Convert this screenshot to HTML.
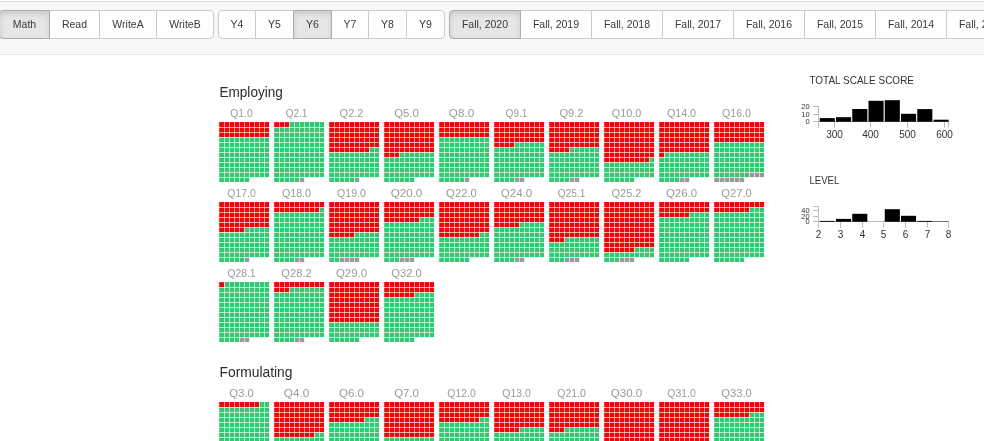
<!DOCTYPE html>
<html lang="en">
<head>
<meta charset="utf-8">
<title>Item map</title>
<style>
html,body{margin:0;padding:0;background:#fff;}
body{width:984px;height:441px;overflow:hidden;position:relative;font-family:"Liberation Sans",sans-serif;}
.nav{position:absolute;left:-1px;top:1px;width:1100px;height:52px;background:#f8f8f8;border:1px solid #e7e7e7;border-top-color:#dcdee6;}
.grp{position:absolute;top:8px;height:29px;}
.btn{position:absolute;top:0;height:29px;box-sizing:border-box;margin:0;padding:0 0 1px 0;border:1px solid #ccc;background:#fff;color:#3a3a3a;
 font:10.5px/1 "Liberation Sans",sans-serif;text-align:center;border-radius:0;cursor:pointer;}
.btn.first{border-top-left-radius:4px;border-bottom-left-radius:4px;}
.btn.last{border-top-right-radius:4px;border-bottom-right-radius:4px;}
.btn.on{background:#e6e6e6;border-color:#adadad;box-shadow:inset 0 3px 5px rgba(0,0,0,.125);z-index:2;}
svg{position:absolute;left:0;top:0;}
.r{fill:#f00}.g{fill:#2ecc71}.n{fill:#999}
#grid{fill:none;stroke:#fff;stroke-width:.66}
.q{font:10px "Liberation Sans",sans-serif;fill:#999;text-anchor:middle}
.h{font:14px "Liberation Sans",sans-serif;fill:#2b2b2b}
.t{font:11px "Liberation Sans",sans-serif;fill:#333}
.ax{fill:none;stroke:#bbb;stroke-width:1}
.yl{font:7.5px "Liberation Sans",sans-serif;fill:#333;text-anchor:end}
.xl{font:10px "Liberation Sans",sans-serif;fill:#333;text-anchor:middle}
</style>
</head>
<body>
<div class="nav"><div class="grp" style="left:-1px"><button type="button" class="btn on first" style="left:0px;width:51px">Math</button><button type="button" class="btn" style="left:50px;width:51px">Read</button><button type="button" class="btn" style="left:100px;width:58px">WriteA</button><button type="button" class="btn last" style="left:157px;width:58px">WriteB</button></div><div class="grp" style="left:218px"><button type="button" class="btn first" style="left:0px;width:38px">Y4</button><button type="button" class="btn" style="left:37px;width:39px">Y5</button><button type="button" class="btn on" style="left:75px;width:39px">Y6</button><button type="button" class="btn" style="left:113px;width:38px">Y7</button><button type="button" class="btn" style="left:150px;width:39px">Y8</button><button type="button" class="btn last" style="left:188px;width:39px">Y9</button></div><div class="grp open" style="left:449px"><button type="button" class="btn on first" style="left:0px;width:72px">Fall, 2020</button><button type="button" class="btn" style="left:71px;width:72px">Fall, 2019</button><button type="button" class="btn" style="left:142px;width:72px">Fall, 2018</button><button type="button" class="btn" style="left:213px;width:72px">Fall, 2017</button><button type="button" class="btn" style="left:284px;width:72px">Fall, 2016</button><button type="button" class="btn" style="left:355px;width:72px">Fall, 2015</button><button type="button" class="btn" style="left:426px;width:72px">Fall, 2014</button><button type="button" class="btn last" style="left:497px;width:72px">Fall, 2013</button></div></div>
<svg width="984" height="441" viewBox="0 0 984 441">
<defs><path id="grid" d="M5.5 -1V61M10.5 -1V61M15.5 -1V61M20.5 -1V61M25.5 -1V61M30.5 -1V61M35.5 -1V61M40.5 -1V61M45.5 -1V61M-1 5.5H51M-1 10.5H51M-1 15.5H51M-1 20.5H51M-1 25.5H51M-1 30.5H51M-1 35.5H51M-1 40.5H51M-1 45.5H51M-1 50.5H51M-1 55.5H51"/></defs>
<text class="h" x="219.5" y="97" textLength="63.3" lengthAdjust="spacingAndGlyphs">Employing</text>
<text class="q" x="241.5" y="116.5" textLength="22.4" lengthAdjust="spacingAndGlyphs">Q1.0</text>
<g transform="translate(219,122)"><path class="r" d="M.2 .1H50V5.5H.2zM.2 5.5H50V10.5H.2zM.2 10.5H50V15.5H.2z"/><path class="g" d="M.2 15.5H50V20.5H.2zM.2 20.5H50V25.5H.2zM.2 25.5H50V30.5H.2zM.2 30.5H50V35.5H.2zM.2 35.5H50V40.5H.2zM.2 40.5H50V45.5H.2zM.2 45.5H50V50.5H.2zM.2 50.5H50V55.5H.2zM.2 55.5H30.5V60H.2z"/><use href="#grid"/></g>
<text class="q" x="296.5" y="116.5" textLength="21.5" lengthAdjust="spacingAndGlyphs">Q2.1</text>
<g transform="translate(274,122)"><path class="r" d="M.2 .1H15.5V5.5H.2z"/><path class="g" d="M15.5 .1H50V5.5H15.5zM.2 5.5H50V10.5H.2zM.2 10.5H50V15.5H.2zM.2 15.5H50V20.5H.2zM.2 20.5H50V25.5H.2zM.2 25.5H50V30.5H.2zM.2 30.5H50V35.5H.2zM.2 35.5H50V40.5H.2zM.2 40.5H50V45.5H.2zM.2 45.5H50V50.5H.2zM.2 50.5H50V55.5H.2zM.2 55.5H25.5V60H.2z"/><path class="n" d="M25.5 55.5H30.5V60H25.5z"/><use href="#grid"/></g>
<text class="q" x="351.5" y="116.5" textLength="23.8" lengthAdjust="spacingAndGlyphs">Q2.2</text>
<g transform="translate(329,122)"><path class="r" d="M.2 .1H50V5.5H.2zM.2 5.5H50V10.5H.2zM.2 10.5H50V15.5H.2zM.2 15.5H50V20.5H.2zM.2 20.5H50V25.5H.2zM.2 25.5H40.5V30.5H.2z"/><path class="g" d="M40.5 25.5H50V30.5H40.5zM.2 30.5H50V35.5H.2zM.2 35.5H50V40.5H.2zM.2 40.5H50V45.5H.2zM.2 45.5H50V50.5H.2zM.2 50.5H50V55.5H.2zM.2 55.5H25.5V60H.2z"/><path class="n" d="M25.5 55.5H30.5V60H25.5z"/><use href="#grid"/></g>
<text class="q" x="406.5" y="116.5" textLength="24.7" lengthAdjust="spacingAndGlyphs">Q5.0</text>
<g transform="translate(384,122)"><path class="r" d="M.2 .1H50V5.5H.2zM.2 5.5H50V10.5H.2zM.2 10.5H50V15.5H.2zM.2 15.5H50V20.5H.2zM.2 20.5H50V25.5H.2zM.2 25.5H50V30.5H.2zM.2 30.5H15.5V35.5H.2z"/><path class="g" d="M15.5 30.5H50V35.5H15.5zM.2 35.5H50V40.5H.2zM.2 40.5H50V45.5H.2zM.2 45.5H50V50.5H.2zM.2 50.5H50V55.5H.2zM.2 55.5H30.5V60H.2z"/><use href="#grid"/></g>
<text class="q" x="461.5" y="116.5" textLength="25.3" lengthAdjust="spacingAndGlyphs">Q8.0</text>
<g transform="translate(439,122)"><path class="r" d="M.2 .1H50V5.5H.2zM.2 5.5H50V10.5H.2zM.2 10.5H50V15.5H.2z"/><path class="g" d="M.2 15.5H50V20.5H.2zM.2 20.5H50V25.5H.2zM.2 25.5H50V30.5H.2zM.2 30.5H50V35.5H.2zM.2 35.5H50V40.5H.2zM.2 40.5H50V45.5H.2zM.2 45.5H50V50.5H.2zM.2 50.5H50V55.5H.2zM.2 55.5H25.5V60H.2z"/><path class="n" d="M25.5 55.5H30.5V60H25.5z"/><use href="#grid"/></g>
<text class="q" x="516.5" y="116.5" textLength="21.8" lengthAdjust="spacingAndGlyphs">Q9.1</text>
<g transform="translate(494,122)"><path class="r" d="M.2 .1H50V5.5H.2zM.2 5.5H50V10.5H.2zM.2 10.5H50V15.5H.2zM.2 15.5H50V20.5H.2zM.2 20.5H20.5V25.5H.2z"/><path class="g" d="M20.5 20.5H50V25.5H20.5zM.2 25.5H50V30.5H.2zM.2 30.5H50V35.5H.2zM.2 35.5H50V40.5H.2zM.2 40.5H50V45.5H.2zM.2 45.5H50V50.5H.2zM.2 50.5H50V55.5H.2zM.2 55.5H20.5V60H.2z"/><path class="n" d="M20.5 55.5H30.5V60H20.5z"/><use href="#grid"/></g>
<text class="q" x="571.5" y="116.5" textLength="24.1" lengthAdjust="spacingAndGlyphs">Q9.2</text>
<g transform="translate(549,122)"><path class="r" d="M.2 .1H50V5.5H.2zM.2 5.5H50V10.5H.2zM.2 10.5H50V15.5H.2zM.2 15.5H50V20.5H.2zM.2 20.5H50V25.5H.2zM.2 25.5H20.5V30.5H.2z"/><path class="g" d="M20.5 25.5H50V30.5H20.5zM.2 30.5H50V35.5H.2zM.2 35.5H50V40.5H.2zM.2 40.5H50V45.5H.2zM.2 45.5H50V50.5H.2zM.2 50.5H50V55.5H.2zM.2 55.5H20.5V60H.2z"/><path class="n" d="M20.5 55.5H30.5V60H20.5z"/><use href="#grid"/></g>
<text class="q" x="626.5" y="116.5" textLength="29.4" lengthAdjust="spacingAndGlyphs">Q10.0</text>
<g transform="translate(604,122)"><path class="r" d="M.2 .1H50V5.5H.2zM.2 5.5H50V10.5H.2zM.2 10.5H50V15.5H.2zM.2 15.5H50V20.5H.2zM.2 20.5H50V25.5H.2zM.2 25.5H50V30.5H.2zM.2 30.5H50V35.5H.2zM.2 35.5H45.5V40.5H.2z"/><path class="g" d="M45.5 35.5H50V40.5H45.5zM.2 40.5H50V45.5H.2zM.2 45.5H50V50.5H.2zM.2 50.5H50V55.5H.2zM.2 55.5H30.5V60H.2z"/><use href="#grid"/></g>
<text class="q" x="681.5" y="116.5" textLength="29.2" lengthAdjust="spacingAndGlyphs">Q14.0</text>
<g transform="translate(659,122)"><path class="r" d="M.2 .1H50V5.5H.2zM.2 5.5H50V10.5H.2zM.2 10.5H50V15.5H.2zM.2 15.5H50V20.5H.2zM.2 20.5H50V25.5H.2zM.2 25.5H50V30.5H.2zM.2 30.5H5.5V35.5H.2z"/><path class="g" d="M5.5 30.5H50V35.5H5.5zM.2 35.5H50V40.5H.2zM.2 40.5H50V45.5H.2zM.2 45.5H50V50.5H.2zM.2 50.5H50V55.5H.2zM.2 55.5H20.5V60H.2z"/><path class="n" d="M20.5 55.5H30.5V60H20.5z"/><use href="#grid"/></g>
<text class="q" x="736.5" y="116.5" textLength="28.8" lengthAdjust="spacingAndGlyphs">Q16.0</text>
<g transform="translate(714,122)"><path class="r" d="M.2 .1H50V5.5H.2zM.2 5.5H50V10.5H.2zM.2 10.5H50V15.5H.2zM.2 15.5H50V20.5H.2z"/><path class="g" d="M.2 20.5H50V25.5H.2zM.2 25.5H50V30.5H.2zM.2 30.5H50V35.5H.2zM.2 35.5H50V40.5H.2zM.2 40.5H50V45.5H.2zM.2 45.5H50V50.5H.2zM.2 50.5H35.5V55.5H.2z"/><path class="n" d="M35.5 50.5H50V55.5H35.5zM.2 55.5H30.5V60H.2z"/><use href="#grid"/></g>
<text class="q" x="241.5" y="196.5" textLength="28.4" lengthAdjust="spacingAndGlyphs">Q17.0</text>
<g transform="translate(219,202)"><path class="r" d="M.2 .1H50V5.5H.2zM.2 5.5H50V10.5H.2zM.2 10.5H50V15.5H.2zM.2 15.5H50V20.5H.2zM.2 20.5H50V25.5H.2zM.2 25.5H25.5V30.5H.2z"/><path class="g" d="M25.5 25.5H50V30.5H25.5zM.2 30.5H50V35.5H.2zM.2 35.5H50V40.5H.2zM.2 40.5H50V45.5H.2zM.2 45.5H50V50.5H.2zM.2 50.5H50V55.5H.2zM.2 55.5H25.5V60H.2z"/><path class="n" d="M25.5 55.5H30.5V60H25.5z"/><use href="#grid"/></g>
<text class="q" x="296.5" y="196.5" textLength="29.1" lengthAdjust="spacingAndGlyphs">Q18.0</text>
<g transform="translate(274,202)"><path class="r" d="M.2 .1H50V5.5H.2zM.2 5.5H45.5V10.5H.2z"/><path class="g" d="M45.5 5.5H50V10.5H45.5zM.2 10.5H50V15.5H.2zM.2 15.5H50V20.5H.2zM.2 20.5H50V25.5H.2zM.2 25.5H50V30.5H.2zM.2 30.5H50V35.5H.2zM.2 35.5H50V40.5H.2zM.2 40.5H50V45.5H.2zM.2 45.5H50V50.5H.2zM.2 50.5H50V55.5H.2zM.2 55.5H20.5V60H.2z"/><path class="n" d="M20.5 55.5H30.5V60H20.5z"/><use href="#grid"/></g>
<text class="q" x="351.5" y="196.5" textLength="28.8" lengthAdjust="spacingAndGlyphs">Q19.0</text>
<g transform="translate(329,202)"><path class="r" d="M.2 .1H50V5.5H.2zM.2 5.5H50V10.5H.2zM.2 10.5H50V15.5H.2zM.2 15.5H50V20.5H.2zM.2 20.5H50V25.5H.2zM.2 25.5H50V30.5H.2zM.2 30.5H25.5V35.5H.2z"/><path class="g" d="M25.5 30.5H50V35.5H25.5zM.2 35.5H50V40.5H.2zM.2 40.5H50V45.5H.2zM.2 45.5H50V50.5H.2zM.2 50.5H50V55.5H.2zM.2 55.5H10.5V60H.2z"/><path class="n" d="M10.5 55.5H30.5V60H10.5z"/><use href="#grid"/></g>
<text class="q" x="406.5" y="196.5" textLength="31.7" lengthAdjust="spacingAndGlyphs">Q20.0</text>
<g transform="translate(384,202)"><path class="r" d="M.2 .1H50V5.5H.2zM.2 5.5H50V10.5H.2zM.2 10.5H50V15.5H.2zM.2 15.5H35.5V20.5H.2z"/><path class="g" d="M35.5 15.5H50V20.5H35.5zM.2 20.5H50V25.5H.2zM.2 25.5H50V30.5H.2zM.2 30.5H50V35.5H.2zM.2 35.5H50V40.5H.2zM.2 40.5H50V45.5H.2zM.2 45.5H50V50.5H.2zM.2 50.5H50V55.5H.2zM.2 55.5H15.5V60H.2z"/><path class="n" d="M15.5 55.5H30.5V60H15.5z"/><use href="#grid"/></g>
<text class="q" x="461.5" y="196.5" textLength="30.8" lengthAdjust="spacingAndGlyphs">Q22.0</text>
<g transform="translate(439,202)"><path class="r" d="M.2 .1H50V5.5H.2zM.2 5.5H50V10.5H.2zM.2 10.5H50V15.5H.2zM.2 15.5H50V20.5H.2zM.2 20.5H50V25.5H.2zM.2 25.5H50V30.5H.2zM.2 30.5H40.5V35.5H.2z"/><path class="g" d="M40.5 30.5H50V35.5H40.5zM.2 35.5H50V40.5H.2zM.2 40.5H50V45.5H.2zM.2 45.5H50V50.5H.2zM.2 50.5H50V55.5H.2zM.2 55.5H30.5V60H.2z"/><use href="#grid"/></g>
<text class="q" x="516.5" y="196.5" textLength="31.5" lengthAdjust="spacingAndGlyphs">Q24.0</text>
<g transform="translate(494,202)"><path class="r" d="M.2 .1H50V5.5H.2zM.2 5.5H50V10.5H.2zM.2 10.5H50V15.5H.2zM.2 15.5H50V20.5H.2zM.2 20.5H25.5V25.5H.2z"/><path class="g" d="M25.5 20.5H50V25.5H25.5zM.2 25.5H50V30.5H.2zM.2 30.5H50V35.5H.2zM.2 35.5H50V40.5H.2zM.2 40.5H50V45.5H.2zM.2 45.5H50V50.5H.2zM.2 50.5H50V55.5H.2zM.2 55.5H20.5V60H.2z"/><path class="n" d="M20.5 55.5H30.5V60H20.5z"/><use href="#grid"/></g>
<text class="q" x="571.5" y="196.5" textLength="27.6" lengthAdjust="spacingAndGlyphs">Q25.1</text>
<g transform="translate(549,202)"><path class="r" d="M.2 .1H50V5.5H.2zM.2 5.5H50V10.5H.2zM.2 10.5H50V15.5H.2zM.2 15.5H50V20.5H.2zM.2 20.5H50V25.5H.2zM.2 25.5H50V30.5H.2zM.2 30.5H50V35.5H.2zM.2 35.5H15.5V40.5H.2z"/><path class="g" d="M15.5 35.5H50V40.5H15.5zM.2 40.5H50V45.5H.2zM.2 45.5H50V50.5H.2zM.2 50.5H50V55.5H.2zM.2 55.5H15.5V60H.2z"/><path class="n" d="M15.5 55.5H30.5V60H15.5z"/><use href="#grid"/></g>
<text class="q" x="626.5" y="196.5" textLength="29.9" lengthAdjust="spacingAndGlyphs">Q25.2</text>
<g transform="translate(604,202)"><path class="r" d="M.2 .1H50V5.5H.2zM.2 5.5H50V10.5H.2zM.2 10.5H50V15.5H.2zM.2 15.5H50V20.5H.2zM.2 20.5H50V25.5H.2zM.2 25.5H50V30.5H.2zM.2 30.5H50V35.5H.2zM.2 35.5H50V40.5H.2zM.2 40.5H50V45.5H.2zM.2 45.5H30.5V50.5H.2z"/><path class="g" d="M30.5 45.5H50V50.5H30.5zM.2 50.5H50V55.5H.2zM.2 55.5H15.5V60H.2z"/><path class="n" d="M15.5 55.5H30.5V60H15.5z"/><use href="#grid"/></g>
<text class="q" x="681.5" y="196.5" textLength="31.1" lengthAdjust="spacingAndGlyphs">Q26.0</text>
<g transform="translate(659,202)"><path class="r" d="M.2 .1H50V5.5H.2zM.2 5.5H50V10.5H.2zM.2 10.5H30.5V15.5H.2z"/><path class="g" d="M30.5 10.5H50V15.5H30.5zM.2 15.5H50V20.5H.2zM.2 20.5H50V25.5H.2zM.2 25.5H50V30.5H.2zM.2 30.5H50V35.5H.2zM.2 35.5H50V40.5H.2zM.2 40.5H50V45.5H.2zM.2 45.5H50V50.5H.2zM.2 50.5H50V55.5H.2zM.2 55.5H30.5V60H.2z"/><use href="#grid"/></g>
<text class="q" x="736.5" y="196.5" textLength="30.7" lengthAdjust="spacingAndGlyphs">Q27.0</text>
<g transform="translate(714,202)"><path class="r" d="M.2 .1H50V5.5H.2zM.2 5.5H35.5V10.5H.2z"/><path class="g" d="M35.5 5.5H50V10.5H35.5zM.2 10.5H50V15.5H.2zM.2 15.5H50V20.5H.2zM.2 20.5H50V25.5H.2zM.2 25.5H50V30.5H.2zM.2 30.5H50V35.5H.2zM.2 35.5H50V40.5H.2zM.2 40.5H50V45.5H.2zM.2 45.5H50V50.5H.2zM.2 50.5H50V55.5H.2zM.2 55.5H30.5V60H.2z"/><use href="#grid"/></g>
<text class="q" x="241.5" y="276.5" textLength="28.2" lengthAdjust="spacingAndGlyphs">Q28.1</text>
<g transform="translate(219,282)"><path class="r" d="M.2 .1H5.5V5.5H.2z"/><path class="g" d="M5.5 .1H50V5.5H5.5zM.2 5.5H50V10.5H.2zM.2 10.5H50V15.5H.2zM.2 15.5H50V20.5H.2zM.2 20.5H50V25.5H.2zM.2 25.5H50V30.5H.2zM.2 30.5H50V35.5H.2zM.2 35.5H50V40.5H.2zM.2 40.5H50V45.5H.2zM.2 45.5H50V50.5H.2zM.2 50.5H50V55.5H.2zM.2 55.5H20.5V60H.2z"/><path class="n" d="M20.5 55.5H30.5V60H20.5z"/><use href="#grid"/></g>
<text class="q" x="296.5" y="276.5" textLength="30.5" lengthAdjust="spacingAndGlyphs">Q28.2</text>
<g transform="translate(274,282)"><path class="r" d="M.2 .1H50V5.5H.2zM.2 5.5H15.5V10.5H.2z"/><path class="g" d="M15.5 5.5H50V10.5H15.5zM.2 10.5H50V15.5H.2zM.2 15.5H50V20.5H.2zM.2 20.5H50V25.5H.2zM.2 25.5H50V30.5H.2zM.2 30.5H50V35.5H.2zM.2 35.5H50V40.5H.2zM.2 40.5H50V45.5H.2zM.2 45.5H50V50.5H.2zM.2 50.5H50V55.5H.2zM.2 55.5H20.5V60H.2z"/><path class="n" d="M20.5 55.5H30.5V60H20.5z"/><use href="#grid"/></g>
<text class="q" x="351.5" y="276.5" textLength="31.1" lengthAdjust="spacingAndGlyphs">Q29.0</text>
<g transform="translate(329,282)"><path class="r" d="M.2 .1H50V5.5H.2zM.2 5.5H50V10.5H.2zM.2 10.5H50V15.5H.2zM.2 15.5H50V20.5H.2zM.2 20.5H50V25.5H.2zM.2 25.5H50V30.5H.2zM.2 30.5H50V35.5H.2zM.2 35.5H50V40.5H.2z"/><path class="g" d="M.2 40.5H50V45.5H.2zM.2 45.5H50V50.5H.2zM.2 50.5H50V55.5H.2zM.2 55.5H30.5V60H.2z"/><use href="#grid"/></g>
<text class="q" x="406.5" y="276.5" textLength="30.7" lengthAdjust="spacingAndGlyphs">Q32.0</text>
<g transform="translate(384,282)"><path class="r" d="M.2 .1H50V5.5H.2zM.2 5.5H50V10.5H.2zM.2 10.5H30.5V15.5H.2z"/><path class="g" d="M30.5 10.5H50V15.5H30.5zM.2 15.5H50V20.5H.2zM.2 20.5H50V25.5H.2zM.2 25.5H50V30.5H.2zM.2 30.5H50V35.5H.2zM.2 35.5H50V40.5H.2zM.2 40.5H50V45.5H.2zM.2 45.5H50V50.5H.2zM.2 50.5H50V55.5H.2zM.2 55.5H30.5V60H.2z"/><use href="#grid"/></g>
<text class="h" x="219.5" y="377" textLength="73" lengthAdjust="spacingAndGlyphs">Formulating</text>
<text class="q" x="241.5" y="396.5" textLength="24.6" lengthAdjust="spacingAndGlyphs">Q3.0</text>
<g transform="translate(219,402)"><path class="r" d="M.2 .1H40.5V5.5H.2z"/><path class="g" d="M40.5 .1H50V5.5H40.5zM.2 5.5H50V10.5H.2zM.2 10.5H50V15.5H.2zM.2 15.5H50V20.5H.2zM.2 20.5H50V25.5H.2zM.2 25.5H50V30.5H.2zM.2 30.5H50V35.5H.2zM.2 35.5H50V40.5H.2zM.2 40.5H50V45.5H.2zM.2 45.5H50V50.5H.2zM.2 50.5H50V55.5H.2zM.2 55.5H30.5V60H.2z"/><use href="#grid"/></g>
<text class="q" x="296.5" y="396.5" textLength="25.4" lengthAdjust="spacingAndGlyphs">Q4.0</text>
<g transform="translate(274,402)"><path class="r" d="M.2 .1H50V5.5H.2zM.2 5.5H50V10.5H.2zM.2 10.5H50V15.5H.2zM.2 15.5H50V20.5H.2zM.2 20.5H50V25.5H.2zM.2 25.5H50V30.5H.2zM.2 30.5H40.5V35.5H.2z"/><path class="g" d="M40.5 30.5H50V35.5H40.5zM.2 35.5H50V40.5H.2zM.2 40.5H50V45.5H.2zM.2 45.5H50V50.5H.2zM.2 50.5H50V55.5H.2zM.2 55.5H30.5V60H.2z"/><use href="#grid"/></g>
<text class="q" x="351.5" y="396.5" textLength="25" lengthAdjust="spacingAndGlyphs">Q6.0</text>
<g transform="translate(329,402)"><path class="r" d="M.2 .1H50V5.5H.2zM.2 5.5H50V10.5H.2zM.2 10.5H50V15.5H.2zM.2 15.5H35.5V20.5H.2z"/><path class="g" d="M35.5 15.5H50V20.5H35.5zM.2 20.5H50V25.5H.2zM.2 25.5H50V30.5H.2zM.2 30.5H50V35.5H.2zM.2 35.5H50V40.5H.2zM.2 40.5H50V45.5H.2zM.2 45.5H50V50.5H.2zM.2 50.5H50V55.5H.2zM.2 55.5H30.5V60H.2z"/><use href="#grid"/></g>
<text class="q" x="406.5" y="396.5" textLength="24.6" lengthAdjust="spacingAndGlyphs">Q7.0</text>
<g transform="translate(384,402)"><path class="r" d="M.2 .1H50V5.5H.2zM.2 5.5H50V10.5H.2zM.2 10.5H50V15.5H.2zM.2 15.5H50V20.5H.2zM.2 20.5H50V25.5H.2zM.2 25.5H50V30.5H.2zM.2 30.5H50V35.5H.2z"/><path class="g" d="M.2 35.5H50V40.5H.2zM.2 40.5H50V45.5H.2zM.2 45.5H50V50.5H.2zM.2 50.5H50V55.5H.2zM.2 55.5H30.5V60H.2z"/><use href="#grid"/></g>
<text class="q" x="461.5" y="396.5" textLength="28.5" lengthAdjust="spacingAndGlyphs">Q12.0</text>
<g transform="translate(439,402)"><path class="r" d="M.2 .1H50V5.5H.2zM.2 5.5H50V10.5H.2zM.2 10.5H50V15.5H.2zM.2 15.5H40.5V20.5H.2z"/><path class="g" d="M40.5 15.5H50V20.5H40.5zM.2 20.5H50V25.5H.2zM.2 25.5H50V30.5H.2zM.2 30.5H50V35.5H.2zM.2 35.5H50V40.5H.2zM.2 40.5H50V45.5H.2zM.2 45.5H50V50.5H.2zM.2 50.5H50V55.5H.2zM.2 55.5H30.5V60H.2z"/><use href="#grid"/></g>
<text class="q" x="516.5" y="396.5" textLength="28.4" lengthAdjust="spacingAndGlyphs">Q13.0</text>
<g transform="translate(494,402)"><path class="r" d="M.2 .1H50V5.5H.2zM.2 5.5H50V10.5H.2zM.2 10.5H50V15.5H.2zM.2 15.5H50V20.5H.2zM.2 20.5H50V25.5H.2zM.2 25.5H25.5V30.5H.2z"/><path class="g" d="M25.5 25.5H50V30.5H25.5zM.2 30.5H50V35.5H.2zM.2 35.5H50V40.5H.2zM.2 40.5H50V45.5H.2zM.2 45.5H50V50.5H.2zM.2 50.5H50V55.5H.2zM.2 55.5H30.5V60H.2z"/><use href="#grid"/></g>
<text class="q" x="571.5" y="396.5" textLength="28.5" lengthAdjust="spacingAndGlyphs">Q21.0</text>
<g transform="translate(549,402)"><path class="r" d="M.2 .1H50V5.5H.2zM.2 5.5H50V10.5H.2zM.2 10.5H50V15.5H.2zM.2 15.5H50V20.5H.2zM.2 20.5H50V25.5H.2zM.2 25.5H15.5V30.5H.2z"/><path class="g" d="M15.5 25.5H50V30.5H15.5zM.2 30.5H50V35.5H.2zM.2 35.5H50V40.5H.2zM.2 40.5H50V45.5H.2zM.2 45.5H50V50.5H.2zM.2 50.5H50V55.5H.2zM.2 55.5H30.5V60H.2z"/><use href="#grid"/></g>
<text class="q" x="626.5" y="396.5" textLength="31.6" lengthAdjust="spacingAndGlyphs">Q30.0</text>
<g transform="translate(604,402)"><path class="r" d="M.2 .1H50V5.5H.2zM.2 5.5H50V10.5H.2zM.2 10.5H50V15.5H.2zM.2 15.5H50V20.5H.2zM.2 20.5H50V25.5H.2zM.2 25.5H50V30.5H.2zM.2 30.5H50V35.5H.2zM.2 35.5H50V40.5H.2zM.2 40.5H50V45.5H.2zM.2 45.5H50V50.5H.2z"/><path class="g" d="M.2 50.5H50V55.5H.2zM.2 55.5H30.5V60H.2z"/><use href="#grid"/></g>
<text class="q" x="681.5" y="396.5" textLength="28.4" lengthAdjust="spacingAndGlyphs">Q31.0</text>
<g transform="translate(659,402)"><path class="r" d="M.2 .1H50V5.5H.2zM.2 5.5H50V10.5H.2zM.2 10.5H50V15.5H.2zM.2 15.5H50V20.5H.2zM.2 20.5H50V25.5H.2zM.2 25.5H50V30.5H.2zM.2 30.5H50V35.5H.2zM.2 35.5H50V40.5H.2zM.2 40.5H50V45.5H.2zM.2 45.5H50V50.5H.2zM.2 50.5H20.5V55.5H.2z"/><path class="g" d="M20.5 50.5H50V55.5H20.5zM.2 55.5H30.5V60H.2z"/><use href="#grid"/></g>
<text class="q" x="736.5" y="396.5" textLength="30.6" lengthAdjust="spacingAndGlyphs">Q33.0</text>
<g transform="translate(714,402)"><path class="r" d="M.2 .1H50V5.5H.2zM.2 5.5H50V10.5H.2zM.2 10.5H35.5V15.5H.2z"/><path class="g" d="M35.5 10.5H50V15.5H35.5zM.2 15.5H50V20.5H.2zM.2 20.5H50V25.5H.2zM.2 25.5H50V30.5H.2zM.2 30.5H50V35.5H.2zM.2 35.5H50V40.5H.2zM.2 40.5H50V45.5H.2zM.2 45.5H50V50.5H.2zM.2 50.5H50V55.5H.2zM.2 55.5H30.5V60H.2z"/><use href="#grid"/></g>
<text class="t" x="809.4" y="83.9" textLength="104.6" lengthAdjust="spacingAndGlyphs">TOTAL SCALE SCORE</text><path class="ax" d="M813.1 106.5H818.5V127.6M813.1 106.5H818.5M813.1 114.5H818.5M813.1 121.5H818.5M818.5 127.6V121.5H948.5V127.6M834.5 121.5V127.6M870.5 121.5V127.6M907.5 121.5V127.6M944.5 121.5V127.6"/><text class="yl" x="809.6" y="109.1">20</text><text class="yl" x="809.6" y="117.1">10</text><text class="yl" x="809.6" y="124.1">0</text><text class="xl" x="834.5" y="138.3">300</text><text class="xl" x="870.5" y="138.3">400</text><text class="xl" x="907.5" y="138.3">500</text><text class="xl" x="944.5" y="138.3">600</text><rect x="819.75" y="118.1" width="15.1" height="3.7"/><rect x="836" y="117.2" width="15.1" height="4.6"/><rect x="852.25" y="109" width="15.1" height="12.8"/><rect x="868.5" y="100.8" width="15.1" height="21"/><rect x="884.75" y="100.2" width="15.1" height="21.6"/><rect x="901" y="113.8" width="15.1" height="8"/><rect x="917.25" y="109.1" width="15.1" height="12.7"/><rect x="933.5" y="119.7" width="15.1" height="2.1"/>
<text class="t" x="809.4" y="183.9" textLength="30" lengthAdjust="spacingAndGlyphs">LEVEL</text><path class="ax" d="M813.1 206.5H818.5V227.6M813.1 210.5H818.5M813.1 216.5H818.5M813.1 221.5H818.5M818.5 227.6V221.5H948.5V227.6M818.5 221.5V227.6M840.5 221.5V227.6M862.5 221.5V227.6M883.5 221.5V227.6M905.5 221.5V227.6M927.5 221.5V227.6M948.5 221.5V227.6"/><text class="yl" x="809.6" y="213.1">40</text><text class="yl" x="809.6" y="219.1">20</text><text class="yl" x="809.6" y="224.1">0</text><text class="xl" x="818.5" y="238.3">2</text><text class="xl" x="840.5" y="238.3">3</text><text class="xl" x="862.5" y="238.3">4</text><text class="xl" x="883.5" y="238.3">5</text><text class="xl" x="905.5" y="238.3">6</text><text class="xl" x="927.5" y="238.3">7</text><text class="xl" x="948.5" y="238.3">8</text><rect x="819.75" y="220.9" width="15.1" height=".9"/><rect x="836" y="218.9" width="15.1" height="2.9"/><rect x="852.25" y="213.8" width="15.1" height="8"/><rect x="884.75" y="209.2" width="15.1" height="12.6"/><rect x="901" y="215.8" width="15.1" height="6"/><rect x="917.25" y="220.9" width="15.1" height=".9"/><rect x="933.5" y="221.4" width="15.1" height=".4"/>
</svg>
</body>
</html>
